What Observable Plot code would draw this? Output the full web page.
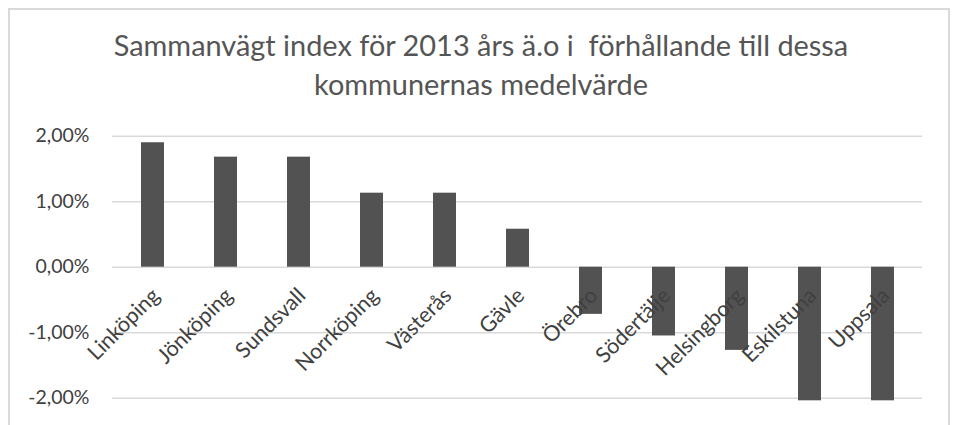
<!DOCTYPE html>
<html>
<head>
<meta charset="utf-8">
<script src="https://cdn.jsdelivr.net/npm/d3@7"></script>
<script src="https://cdn.jsdelivr.net/npm/@observablehq/plot@0.6"></script>
<style>
  html, body { margin: 0; padding: 0; background: #ffffff; }
  #wrap { position: relative; width: 958px; height: 425px; overflow: hidden; background: #fff; }
  #frame { position: absolute; left: 8px; top: 8px; width: 938px; height: 440px; border: 2px solid #d9d9d9; box-sizing: content-box; }
  #title { position: relative; height: 110px; font-family: Lato, "Open Sans", sans-serif; font-weight: 400; color: #555555; text-align: center; }
  #title div { position: absolute; left: 0; width: 962px; white-space: nowrap; line-height: 1; }
  #chart { position: relative; }
</style>
</head>
<body>
<div id="wrap">
  <div id="frame"></div>
  <div id="title"><div id="t1"><span id="s1">Sammanvägt index för 2013 års ä.o i&nbsp; förhållande till dessa</span></div><div id="t2"><span id="s2">kommunernas medelvärde</span></div></div>
  <div id="chart"></div>
</div>
<script>
const categories = ["Linköping","Jönköping","Sundsvall","Norrköping","Västerås","Gävle","Örebro","Södertälje","Helsingborg","Eskilstuna","Uppsala"];
const values = [1.90, 1.68, 1.68, 1.13, 1.13, 0.58, -0.72, -1.05, -1.27, -2.04, -2.04];
const yTicks = [-2, -1, 0, 1, 2];

const data = categories.map((c, i) => ({city: c, value: values[i]}));
const fmt = d => d.toFixed(2).replace(".", ",") + "%";

// Fit title font so line 1 spans ~735px like the reference
const s1 = document.getElementById("s1");
const t1 = document.getElementById("t1"), t2 = document.getElementById("t2");
t1.style.fontSize = t2.style.fontSize = "30px";
const w = s1.getBoundingClientRect().width;
const fs = 30 * 735 / w;
t1.style.fontSize = t2.style.fontSize = fs + "px";
t1.style.top = (57 - 0.9 * fs) + "px";
t2.style.top = (96 - 0.9 * fs) + "px";

const chart = Plot.plot({
  width: 958,
  height: 315,
  marginLeft: 112,
  marginRight: 36,
  marginTop: 25.7,
  marginBottom: 27.3,
  style: {fontFamily: "Lato, 'Open Sans', sans-serif", fontSize: "19.5px", color: "#404040", background: "transparent", overflow: "visible"},
  x: {domain: categories, paddingInner: 0.69, paddingOuter: 0.345, axis: null},
  y: {domain: [-2, 2], ticks: yTicks, tickFormat: fmt, tickSize: 0, tickPadding: 23, label: null},
  marks: [
    Plot.ruleY(yTicks, {stroke: "#d9d9d9", strokeWidth: 1.6}),
    Plot.barY(data, {x: "city", y: "value", fill: "#525252"}),
    Plot.text(data, {x: "city", y: () => 0, text: "city", rotate: -45, textAnchor: "end", lineAnchor: "top", dx: -3, dy: 19, fontSize: 21.5, fill: "#404040"})
  ]
});
document.getElementById("chart").appendChild(chart);
</script>
</body>
</html>
